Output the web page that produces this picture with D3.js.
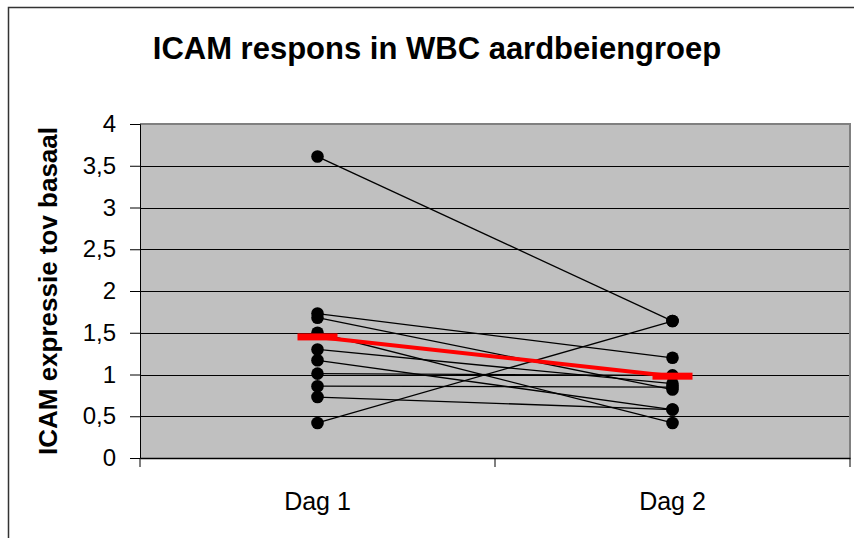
<!DOCTYPE html>
<html>
<head>
<meta charset="utf-8">
<script src="https://cdn.jsdelivr.net/npm/d3@7"></script>
<style>
  body { margin: 0; background: #fff; }
  text { font-family: Arial, "Liberation Sans", sans-serif; }
</style>
</head>
<body>
<script>
const width = 854;
const height = 538;

// data
const days = ["Dag 1", "Dag 2"];
const dag1 = [3.61, 1.73, 1.68, 1.50, 1.30, 1.17, 1.01, 0.86, 0.73, 0.42];
const dag2 = [1.64, 1.20, 0.82, 0.42, 0.89, 0.58, 0.99, 0.85, 0.58, 1.64];
const means = [1.45, 0.98];
const yTicks = [0, 0.5, 1, 1.5, 2, 2.5, 3, 3.5, 4];

const margin = { left: 140, right: 4, top: 124, bottom: 80 };

const svg = d3.select("body").append("svg")
  .attr("width", width)
  .attr("height", height);

// outer frame (runs off the right and bottom edge)
svg.append("path")
  .attr("d", `M8.5,${height + 5} V7.5 H${width + 5}`)
  .attr("fill", "none")
  .attr("stroke", "#333")
  .attr("stroke-width", 1.5);

const x = d3.scaleBand()
  .domain(days)
  .range([margin.left, width - margin.right]);

const y = d3.scaleLinear()
  .domain([0, 4])
  .range([height - margin.bottom, margin.top]);

// plot background
svg.append("rect")
  .attr("x", margin.left)
  .attr("y", margin.top)
  .attr("width", x.range()[1] - margin.left)
  .attr("height", y(0) - margin.top)
  .attr("fill", "#c0c0c0");

// grid lines
svg.append("g")
  .selectAll("line")
  .data(yTicks.slice(1, -1))
  .join("line")
  .attr("x1", margin.left)
  .attr("x2", x.range()[1])
  .attr("y1", d => Math.round(y(d)) + 0.5)
  .attr("y2", d => Math.round(y(d)) + 0.5)
  .attr("stroke", "#000")
  .attr("stroke-width", 1);

// top and right border of plot
svg.append("path")
  .attr("d", `M${margin.left},${y(4)} H${x.range()[1]} V${y(0)}`)
  .attr("fill", "none")
  .attr("stroke", "#808080")
  .attr("stroke-width", 2);

// y axis
const yAxis = svg.append("g")
  .attr("transform", `translate(${margin.left},0)`)
  .call(d3.axisLeft(y).tickValues(yTicks).tickSize(10).tickPadding(14)
    .tickFormat(d => String(d).replace(".", ",")));
yAxis.select(".domain").attr("stroke", "#000");
yAxis.selectAll(".tick line").attr("stroke", "#000");
yAxis.selectAll("text")
  .attr("font-size", 24)
  .attr("fill", "#000");

// x axis
const xAxis = svg.append("g")
  .attr("transform", `translate(0,${y(0)})`)
  .call(d3.axisBottom(x).tickSize(0).tickPadding(34));
xAxis.select(".domain").attr("stroke", "#000").attr("stroke-width", 1.5);
xAxis.selectAll("text")
  .attr("font-size", 25)
  .attr("fill", "#000");
// category boundary ticks
xAxis.append("g")
  .selectAll("line")
  .data([x.range()[0], x.range()[0] + x.bandwidth(), x.range()[1]])
  .join("line")
  .attr("x1", d => d).attr("x2", d => d)
  .attr("y1", 0).attr("y2", 9)
  .attr("stroke", "#000");

const cx = d => x(d) + x.bandwidth() / 2;

// subject lines
svg.append("g")
  .selectAll("line")
  .data(dag1.map((v, i) => [v, dag2[i]]))
  .join("line")
  .attr("x1", cx(days[0]))
  .attr("x2", cx(days[1]))
  .attr("y1", d => y(d[0]))
  .attr("y2", d => y(d[1]))
  .attr("stroke", "#000")
  .attr("stroke-width", 1.3);

// points
const pts = dag1.map(v => [days[0], v]).concat(dag2.map(v => [days[1], v]));
svg.append("g")
  .selectAll("circle")
  .data(pts)
  .join("circle")
  .attr("cx", d => cx(d[0]))
  .attr("cy", d => y(d[1]))
  .attr("r", 6.3)
  .attr("fill", "#000");

// mean line
svg.append("line")
  .attr("x1", cx(days[0]))
  .attr("x2", cx(days[1]))
  .attr("y1", y(means[0]))
  .attr("y2", y(means[1]))
  .attr("stroke", "#ff0000")
  .attr("stroke-width", 4);

svg.append("g")
  .selectAll("rect")
  .data(means)
  .join("rect")
  .attr("x", (d, i) => cx(days[i]) - 20)
  .attr("y", d => y(d) - 3.5)
  .attr("width", 40)
  .attr("height", 7)
  .attr("fill", "#ff0000");

// title
svg.append("text")
  .attr("x", 437)
  .attr("y", 59)
  .attr("text-anchor", "middle")
  .attr("font-size", 31)
  .attr("font-weight", "bold")
  .text("ICAM respons in WBC aardbeiengroep");

// y axis title
svg.append("text")
  .attr("transform", `translate(57,${(y(0) + y(4)) / 2}) rotate(-90)`)
  .attr("text-anchor", "middle")
  .attr("font-size", 26)
  .attr("font-weight", "bold")
  .text("ICAM expressie tov basaal");
</script>
</body>
</html>
